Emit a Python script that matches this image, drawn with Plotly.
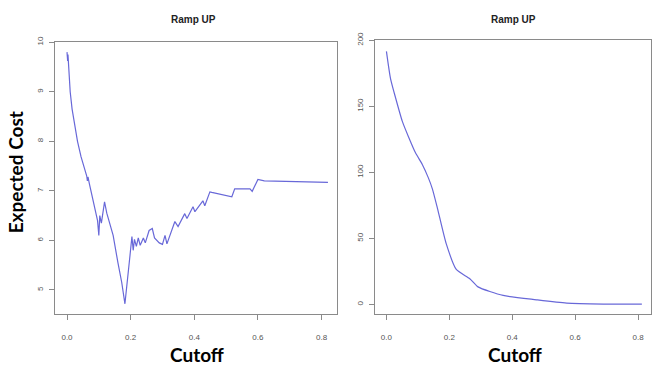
import plotly.graph_objects as go

# Left panel: expected cost vs cutoff
left_cutoff = [0.000, 0.002, 0.003, 0.005, 0.008, 0.010, 0.016, 0.023, 0.033, 0.044,
               0.055, 0.062, 0.064, 0.066, 0.070, 0.080, 0.090, 0.096, 0.100, 0.103,
               0.108, 0.113, 0.118, 0.125, 0.130, 0.145, 0.160, 0.172, 0.182, 0.186,
               0.192, 0.198, 0.204, 0.208, 0.212, 0.218, 0.224, 0.230, 0.240, 0.246,
               0.258, 0.268, 0.275, 0.290, 0.300, 0.308, 0.314, 0.339, 0.349, 0.370,
               0.377, 0.396, 0.402, 0.427, 0.433, 0.449, 0.455, 0.518, 0.527, 0.575,
               0.582, 0.600, 0.620, 0.820]
left_cost = [9.80, 9.62, 9.75, 9.50, 9.20, 9.00, 8.65, 8.36, 8.00, 7.69,
             7.45, 7.30, 7.20, 7.28, 7.15, 6.85, 6.60, 6.40, 6.10, 6.50,
             6.35, 6.55, 6.78, 6.55, 6.45, 6.10, 5.55, 5.15, 4.72, 5.00,
             5.35, 5.70, 6.08, 5.80, 6.02, 5.88, 6.05, 5.90, 6.05, 5.95,
             6.20, 6.24, 6.05, 5.95, 5.92, 6.10, 5.93, 6.38, 6.28, 6.54,
             6.44, 6.68, 6.58, 6.80, 6.70, 6.98, 6.97, 6.88, 7.04, 7.04,
             6.99, 7.23, 7.20, 7.17]

# Right panel
right_cutoff = [0.000, 0.013, 0.029, 0.050, 0.070, 0.092, 0.114, 0.133, 0.146, 0.162,
                0.190, 0.222, 0.265, 0.291, 0.371, 0.477, 0.573, 0.690, 0.812]
right_cost = [191.6, 171.0, 156.5, 139.0, 127.0, 115.0, 106.0, 96.0, 87.5, 73.0,
              46.0, 26.5, 19.5, 13.3, 6.8, 3.5, 1.0, 0.3, 0.2]

x_ticks = [0.0, 0.2, 0.4, 0.6, 0.8]
x_tick_labels = ["0.0", "0.2", "0.4", "0.6", "0.8"]
left_y_ticks = [5, 6, 7, 8, 9, 10]
right_y_ticks = [0, 50, 100, 150, 200]

panel_title = "Ramp UP"
y_title = "Expected Cost"
x_title = "Cutoff"

W, H = 652, 369
line_color = "#6868d8"

fig = go.Figure()
fig.add_trace(go.Scatter(x=left_cutoff, y=left_cost, mode="lines",
                         line=dict(color=line_color, width=1.2), xaxis="x", yaxis="y",
                         showlegend=False))
fig.add_trace(go.Scatter(x=right_cutoff, y=right_cost, mode="lines",
                         line=dict(color=line_color, width=1.2, shape="spline", smoothing=0.6),
                         xaxis="x2", yaxis="y2", showlegend=False))

axis_common = dict(showline=True, mirror=True, linecolor="#8a8a8a", linewidth=1,
                   showgrid=False, zeroline=False, ticks="outside", ticklen=5,
                   tickcolor="#8a8a8a", tickfont=dict(family="Liberation Sans", size=8, color="#555"))

def px_x(p):
    return p / W

def px_y(p):
    return 1 - p / H

fig.update_layout(
    width=W, height=H, margin=dict(l=0, r=0, t=0, b=0),
    paper_bgcolor="white", plot_bgcolor="white",
    xaxis=dict(domain=[px_x(55), px_x(338)], range=[-0.038, 0.85], anchor="y",
               tickvals=x_ticks, ticktext=x_tick_labels, ticklabelstandoff=10, **axis_common),
    yaxis=dict(domain=[px_y(313), px_y(35)], range=[4.51, 10.0], anchor="x",
               tickvals=left_y_ticks, tickangle=-90, ticklabelstandoff=3, **axis_common),
    xaxis2=dict(domain=[px_x(376), px_x(652)], range=[-0.035, 0.841], anchor="y2",
                tickvals=x_ticks, ticktext=x_tick_labels, ticklabelstandoff=10, **axis_common),
    yaxis2=dict(domain=[px_y(313), px_y(33)], range=[-7.4, 200], anchor="x2",
                tickvals=right_y_ticks, tickangle=-90, ticklabelstandoff=3, **axis_common),
)

anns = [
    dict(x=px_x(194), y=px_y(12), text=f"<b>{panel_title}</b>",
         font=dict(family="Liberation Sans Narrow, Liberation Sans", size=10, color="#222")),
    dict(x=px_x(514), y=px_y(12), text=f"<b>{panel_title}</b>",
         font=dict(family="Liberation Sans Narrow, Liberation Sans", size=10, color="#222")),
    dict(x=px_x(15), y=px_y(168), text=f"<b>{y_title}</b>", textangle=-90,
         font=dict(family="Lato", size=19, color="black")),
    dict(x=px_x(197), y=px_y(354), text=f"<b>{x_title}</b>",
         font=dict(family="Lato", size=19, color="black")),
    dict(x=px_x(516), y=px_y(354), text=f"<b>{x_title}</b>",
         font=dict(family="Lato", size=19, color="black")),
]
for a in anns:
    fig.add_annotation(xref="paper", yref="paper", showarrow=False,
                       xanchor="center", yanchor="middle", **a)

fig.write_html("out.html")
